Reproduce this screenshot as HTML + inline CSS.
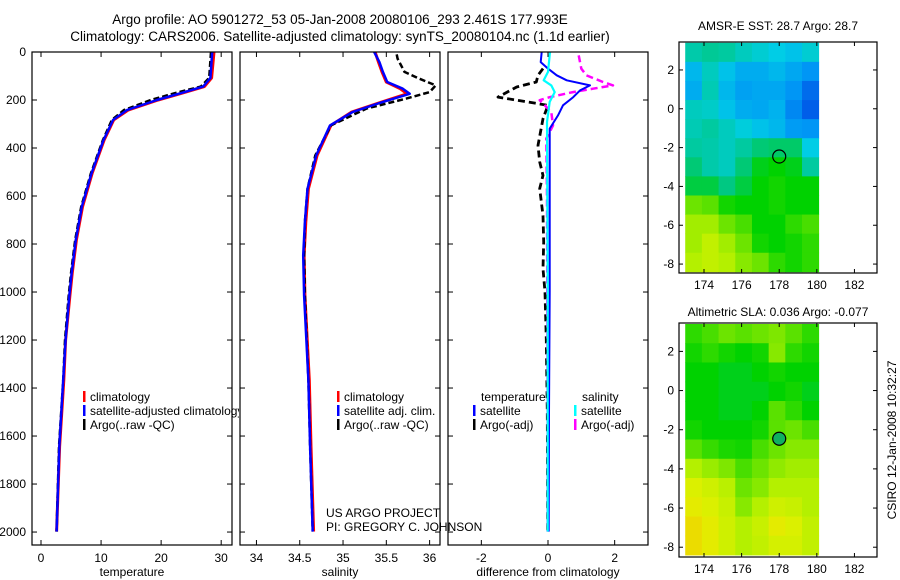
<!DOCTYPE html>
<html><head><meta charset="utf-8"><style>
html,body{margin:0;padding:0;background:#fff;}
svg{display:block;font-family:"Liberation Sans",sans-serif;}
text{fill:#000;}
</style></head><body>
<svg id="fig" width="900" height="580" viewBox="0 0 900 580">
<defs><clipPath id="p1clip"><rect x="32" y="52" width="207" height="493"/></clipPath></defs>
<text x="340" y="24" font-size="13.5" text-anchor="middle">Argo profile: AO 5901272_53 05-Jan-2008 20080106_293 2.461S 177.993E</text>
<text x="340" y="41" font-size="13.5" text-anchor="middle">Climatology: CARS2006. Satellite-adjusted climatology: synTS_20080104.nc (1.1d earlier)</text>
<text x="778" y="30" font-size="12" text-anchor="middle">AMSR-E SST: 28.7 Argo: 28.7</text>
<text x="778" y="316" font-size="12" text-anchor="middle">Altimetric SLA: 0.036 Argo: -0.077</text>
<text transform="translate(896,440) rotate(-90)" font-size="12" text-anchor="middle">CSIRO 12-Jan-2008 10:32:27</text>
<text x="326" y="517" font-size="12">US ARGO PROJECT</text>
<text x="326" y="531" font-size="12">PI: GREGORY C. JOHNSON</text>
</svg>
<script>
// ---- data ----
const tempDepth = [0,108,144,172,200,242,283,367,506,645,783,922,1019,1200,1367,1644,1998];
const tempClim  = [28.8,28.4,27.2,23.4,19.5,14.5,12.1,10.5,8.5,6.9,5.9,5.2,4.8,4.1,3.8,3.1,2.6];
const tempSat   = [28.5,28.2,27.0,23.2,19.3,14.3,12.0,10.4,8.4,6.8,5.8,5.1,4.7,4.1,3.7,3.05,2.6];
const tempArgo  = [28.3,28.0,26.6,22.2,18.3,13.8,11.8,10.3,8.3,6.7,5.7,5.0,4.6,4.0,3.7,3.0,2.6];
const salDepth  = [0,42,83,125,153,174,208,250,306,431,570,708,847,1014,1367,1644,1998];
const salClim   = [35.37,35.41,35.45,35.50,35.66,35.74,35.45,35.10,34.86,34.70,34.60,34.57,34.55,34.56,34.61,34.63,34.66];
const salSat    = [35.36,35.42,35.46,35.51,35.69,35.77,35.46,35.11,34.85,34.69,34.59,34.56,34.54,34.55,34.60,34.62,34.65];
const salArgoDepth = [10,28,83,111,139,167,194,236,306,431,570,708,847,1014,1367,1644,1998];
const salArgo   = [35.62,35.63,35.71,35.88,36.07,36.00,35.73,35.27,34.86,34.68,34.59,34.56,34.55,34.56,34.60,34.62,34.65];
const dTsDepth = [0,42,69,97,118,139,160,188,222,264,319,600,1000,1500,1998];
const dTsat    = [-0.19,-0.22,0,0.26,0.56,1.26,0.96,0.76,0.45,0.3,0.05,0.05,0.05,0.03,0.02];
const dSsDepth = [0,83,118,139,167,208,292,600,1000,1500,1998];
const dSsat    = [0.06,0,-0.13,0.1,0.2,0.05,-0.03,-0.02,-0.01,-0.01,-0.01];
const dTaDepth = [69,97,125,146,188,201,222,278,389,458,514,569,681,792,903,1000,1200,1500,1998];
const dTargo   = [-0.15,-0.3,-0.35,-0.94,-1.5,-0.94,0,-0.15,-0.3,-0.25,-0.15,-0.25,-0.15,-0.13,-0.15,-0.09,-0.05,-0.02,-0.01];
const dSaDepth = [14,69,97,125,139,153,167,188,201,250,306,361,600,1000,1500,1998];
const dSargo   = [0.92,1.0,1.15,1.65,1.95,1.35,0.75,0.06,-0.25,0.1,0.15,-0.05,-0.03,-0.02,-0.01,-0.01];
const depthTicks = [0,200,400,600,800,1000,1200,1400,1600,1800,2000];
const tempTicks = [0,10,20,30];
const salTicks = [34,34.5,35,35.5,36];
const salTickLabels = ['34','34.5','35','35.5','36'];
const diffTicks = [-2,0,2];
const lonTicks = [174,176,178,180,182];
const latTicks = [2,0,-2,-4,-6,-8];
const sstGrid = [
[0.46,0.48,0.47,0.44,0.42,0.40,0.38,0.42],
[0.36,0.44,0.38,0.34,0.34,0.36,0.33,0.30],
[0.34,0.45,0.36,0.32,0.33,0.33,0.30,0.24],
[0.44,0.43,0.38,0.34,0.33,0.35,0.28,0.22],
[0.45,0.47,0.44,0.41,0.38,0.36,0.31,0.30],
[0.47,0.46,0.44,0.47,0.51,0.52,0.52,0.40],
[0.51,0.46,0.44,0.51,0.58,0.60,0.58,0.47],
[0.55,0.55,0.50,0.55,0.60,0.62,0.60,0.60],
[0.72,0.70,0.62,0.60,0.60,0.62,0.60,0.60],
[0.78,0.78,0.72,0.68,0.60,0.60,0.65,0.68],
[0.78,0.82,0.78,0.72,0.62,0.60,0.62,0.65],
[0.80,0.82,0.80,0.75,0.72,0.65,0.62,0.65]];
const slaGrid = [
[0.65,0.68,0.72,0.70,0.72,0.74,0.70,0.65],
[0.62,0.65,0.62,0.60,0.62,0.75,0.65,0.62],
[0.60,0.60,0.58,0.58,0.60,0.62,0.60,0.60],
[0.60,0.60,0.58,0.58,0.58,0.60,0.62,0.58],
[0.60,0.60,0.58,0.58,0.60,0.70,0.65,0.60],
[0.62,0.60,0.60,0.60,0.62,0.70,0.72,0.68],
[0.70,0.66,0.63,0.62,0.68,0.72,0.75,0.75],
[0.80,0.77,0.74,0.68,0.72,0.76,0.78,0.78],
[0.86,0.84,0.81,0.72,0.75,0.80,0.80,0.80],
[0.88,0.86,0.83,0.75,0.80,0.84,0.83,0.80],
[0.91,0.88,0.84,0.80,0.83,0.88,0.86,0.82],
[0.91,0.88,0.84,0.80,0.82,0.85,0.85,0.82]];
const floatLon = 178.0;
const floatLat = -2.46;

// ---- helpers ----
const NS='http://www.w3.org/2000/svg';
const svg=document.getElementById('fig');
function mk(tag,attrs,parent){const e=document.createElementNS(NS,tag);for(const k in attrs)e.setAttribute(k,attrs[k]);(parent||svg).appendChild(e);return e;}
function lin(d0,d1,r0,r1){return v=>r0+(v-d0)*(r1-r0)/(d1-d0);}
const PT=52, PB=545;
const yD=lin(0,2054,PT,PB);
const panels=[
 {x0:32,x1:232,dom:[-1.5,31.8],name:'temperature'},
 {x0:240,x1:440,dom:[33.81,36.12],name:'salinity'},
 {x0:448,x1:648,dom:[-3,3],name:'difference'}];
panels.forEach(p=>{p.x=lin(p.dom[0],p.dom[1],p.x0,p.x1);});

function profile(p,vals,depths,color,dash,w,name){
  const pts=vals.map((v,i)=>p.x(v).toFixed(1)+','+yD(depths[i]).toFixed(1)).join(' ');
  const e=mk('polyline',{points:pts,fill:'none',stroke:color,'stroke-width':w,'stroke-dasharray':dash||'none','stroke-linejoin':'round'});
  
  
}
function frame(x0,y0,x1,y1,name){
  const e=mk('rect',{x:x0,y:y0,width:x1-x0,height:y1-y0,fill:'none',stroke:'#000','stroke-width':1.2});
  
  
}

// ---- profile panels ----
panels.forEach((p,pi)=>{
  depthTicks.forEach(d=>{
    mk('line',{x1:p.x0,x2:p.x0+5,y1:yD(d),y2:yD(d),stroke:'#000'});
    mk('line',{x1:p.x1,x2:p.x1-5,y1:yD(d),y2:yD(d),stroke:'#000'});
    if(pi===0){const t=mk('text',{x:p.x0-6,y:yD(d)+4,'font-size':12,'text-anchor':'end'});t.textContent=d;
      
      }
  });
});
function xticks(p,ticks,labels,name){
  ticks.forEach((v,i)=>{
    const X=p.x(v);
    mk('line',{x1:X,x2:X,y1:PB,y2:PB-5,stroke:'#000'});
    mk('line',{x1:X,x2:X,y1:PT,y2:PT+5,stroke:'#000'});
    const t=mk('text',{x:X,y:PB+17,'font-size':12,'text-anchor':'middle'});t.textContent=labels?labels[i]:String(v);
    
    
  });
}
xticks(panels[0],tempTicks,null,'temp-tick-label');
xticks(panels[1],salTicks,salTickLabels,'sal-tick-label');
xticks(panels[2],diffTicks,null,'diff-tick-label');
[['temperature',132,'temperature-axis-title'],['salinity',340,'salinity-axis-title'],['difference from climatology',548,'diff-axis-title']].forEach(a=>{
  const t=mk('text',{x:a[1],y:576,'font-size':12,'text-anchor':'middle'});t.textContent=a[0];
  
  
});

profile(panels[0],tempClim,tempDepth,'#f00',null,3,'temp-climatology-line');
profile(panels[0],tempArgo,tempDepth,'#000','6,3',2.5,'temp-argo-line');
profile(panels[0],tempSat,tempDepth,'#00f',null,2.5,'temp-satellite-line');
profile(panels[1],salClim,salDepth,'#f00',null,3,'sal-climatology-line');
profile(panels[1],salArgo,salArgoDepth,'#000','6,3',2.5,'sal-argo-line');
profile(panels[1],salSat,salDepth,'#00f',null,2.5,'sal-satellite-line');
profile(panels[2],dTargo,dTaDepth,'#000','7,4',2.8,'diff-temp-argo-line');
profile(panels[2],dSargo,dSaDepth,'#f0f','7,4',2.5,'diff-sal-argo-line');
profile(panels[2],dTsat,dTsDepth,'#00f',null,2,'diff-temp-satellite-line');
profile(panels[2],dSsat,dSsDepth,'#0ff',null,2.2,'diff-sal-satellite-line');
panels.forEach(p=>frame(p.x0,PT,p.x1,PB,p.name+'-panel-frame'));

// ---- legends ----
function legend(x,y,color,label,name,clip){
  const r=mk('rect',{x:x,y:y-10,width:2.5,height:11,fill:color});
  
  
  const t=mk('text',{x:x+7,y:y,'font-size':12});t.textContent=label;
  if(clip)t.setAttribute('clip-path','url(#p1clip)');
  
  
}
legend(83,401,'#f00','climatology','legend-temp-climatology');
legend(83,415,'#00f','satellite-adjusted climatology','legend-temp-satellite',true);
legend(83,429,'#000','Argo(..raw -QC)','legend-temp-argo');
legend(337,401,'#f00','climatology','legend-sal-climatology');
legend(337,415,'#00f','satellite adj. clim.','legend-sal-satellite');
legend(337,429,'#000','Argo(..raw -QC)','legend-sal-argo');
(function(){const t=mk('text',{x:481,y:401,'font-size':12});t.textContent='temperature';


const s=mk('text',{x:582,y:401,'font-size':12});s.textContent='salinity';

})();
legend(473,415,'#00f','satellite','legend-diff-temp-satellite');
legend(473,429,'#000','Argo(-adj)','legend-diff-temp-argo');
legend(574,415,'#0ff','satellite','legend-diff-sal-satellite');
legend(574,429,'#f0f','Argo(-adj)','legend-diff-sal-argo');

// ---- maps ----
const cmapStops=[[0.1,[0,32,170]],[0.2,[0,80,230]],[0.3,[0,150,245]],[0.4,[0,205,230]],[0.5,[0,200,130]],[0.6,[0,210,0]],[0.7,[90,225,0]],[0.8,[180,240,0]],[0.87,[225,240,0]],[0.95,[245,200,0]]];
function cmap(v){
  if(v<=cmapStops[0][0])return 'rgb('+cmapStops[0][1]+')';
  for(let i=1;i<cmapStops.length;i++){
    if(v<=cmapStops[i][0]){const a=cmapStops[i-1],b=cmapStops[i];const f=(v-a[0])/(b[0]-a[0]);
      return 'rgb('+a[1].map((c,k)=>Math.round(c+(b[1][k]-c)*f)).join(',')+')';}
  }
  return 'rgb('+cmapStops[cmapStops.length-1][1]+')';
}
function drawMap(top,bot,latTop,latBot,grid,name,filledCircle){
  const X0=679,X1=877;
  const xL=lin(172.67,183.2,X0,X1), yL=lin(latTop,latBot,top,bot);
  const lon0=173,lon1=180.1,la0=3.4,la1=-8.4;
  const nr=grid.length,nc=grid[0].length;
  const dlon=(lon1-lon0)/nc,dlat=(la0-la1)/nr;
  grid.forEach((row,r)=>row.forEach((v,c)=>{
    const x=xL(lon0+c*dlon),y=yL(la0-r*dlat);
    const e=mk('rect',{x:x.toFixed(2),y:y.toFixed(2),width:(xL(lon0+(c+1)*dlon)-x+0.4).toFixed(2),height:(yL(la0-(r+1)*dlat)-y+0.4).toFixed(2),fill:cmap(v)});
    
    
  }));
  const c=mk('circle',{cx:xL(floatLon),cy:yL(floatLat),r:6.5,fill:filledCircle?'#10b060':'none',stroke:'#000','stroke-width':1.2});
  
  
  lonTicks.forEach(v=>{const X=xL(v);
    mk('line',{x1:X,x2:X,y1:bot,y2:bot-4,stroke:'#000'});mk('line',{x1:X,x2:X,y1:top,y2:top+4,stroke:'#000'});
    const t=mk('text',{x:X,y:bot+16,'font-size':12,'text-anchor':'middle'});t.textContent=v;
    
    });
  latTicks.forEach(v=>{const Y=yL(v);
    mk('line',{x1:X0,x2:X0+4,y1:Y,y2:Y,stroke:'#000'});mk('line',{x1:X1,x2:X1-4,y1:Y,y2:Y,stroke:'#000'});
    const t=mk('text',{x:X0-5,y:Y+4,'font-size':12,'text-anchor':'end'});t.textContent=v;
    
    });
  frame(X0,top,X1,bot,name+'-frame');
}
drawMap(42,273,3.44,-8.46,sstGrid,'sst-map',false);
drawMap(323,557,3.45,-8.5,slaGrid,'sla-map',true);
</script>
</body></html>
